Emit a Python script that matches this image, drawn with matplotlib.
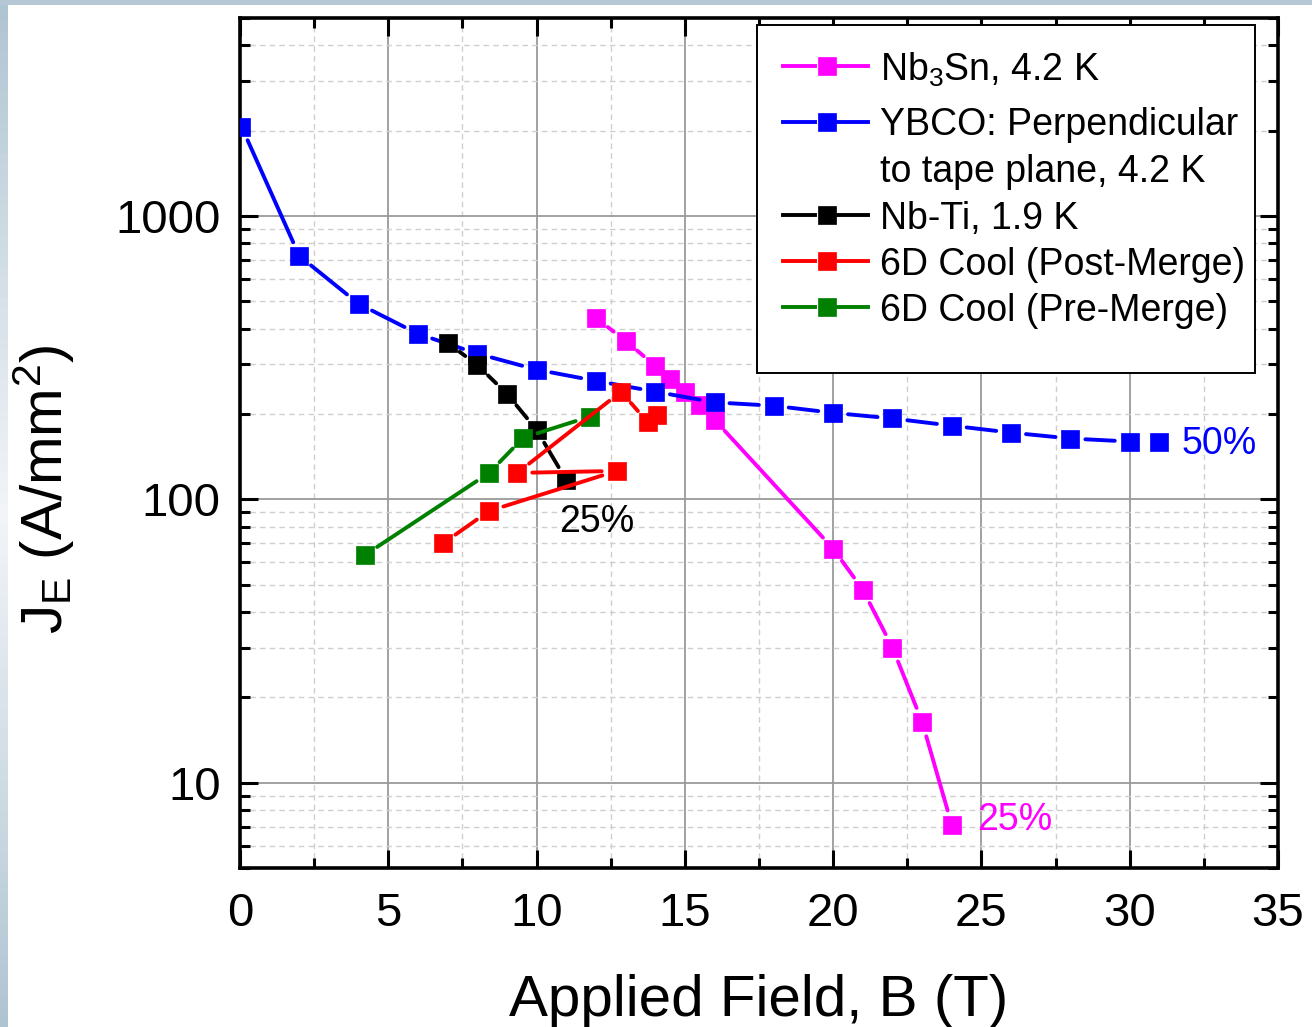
import numpy as np
import matplotlib
matplotlib.use("Agg")
import matplotlib.pyplot as plt
from matplotlib.lines import Line2D
from matplotlib.collections import LineCollection
from matplotlib.patches import Rectangle
from matplotlib.ticker import LogLocator, MultipleLocator, NullFormatter, FixedLocator

plt.rcParams['font.family'] = ['Liberation Sans', 'DejaVu Sans']
plt.rcParams['mathtext.fontset'] = 'custom'
plt.rcParams['mathtext.rm'] = 'Liberation Sans'
plt.rcParams['mathtext.it'] = 'Liberation Sans'

# ---- data: engineering current density vs applied field ----
nb3sn_B = [12, 13, 14, 14.5, 15, 15.5, 16, 20, 21, 22, 23, 24]
nb3sn_J = [437, 363, 296, 267, 240, 216, 191, 67, 48, 30, 16.4, 7.1]

ybco_B = [0.05, 2, 4, 6, 8, 10, 12, 14, 16, 18, 20, 22, 24, 26, 28, 30, 31]
ybco_J = [2070, 723, 490, 384, 327, 287, 262, 240, 220, 214, 202, 193, 182, 172, 164, 160, 160]

nbti_B = [7, 8, 9, 10, 11]
nbti_J = [357, 298, 236, 176, 117]

post_B = [6.85, 8.4, 12.7, 9.35, 12.85, 13.75, 14.05]
post_J = [70, 91, 126, 124, 240, 187, 198]

pre_B = [4.2, 8.4, 9.55, 11.8]
pre_J = [63.5, 124, 165, 196]

series = [
    ("Nb$_\\mathregular{3}$Sn, 4.2 K", nb3sn_B, nb3sn_J, "#ff00ff", 3),
    ("YBCO: Perpendicular\nto tape plane, 4.2 K", ybco_B, ybco_J, "#0000ff", 4),
    ("Nb-Ti, 1.9 K", nbti_B, nbti_J, "#000000", 5),
    ("6D Cool (Post-Merge)", post_B, post_J, "#ff0000", 7),
    ("6D Cool (Pre-Merge)", pre_B, pre_J, "#008000", 6),
]

annotations = [
    ("50%", 31.75, 157, "#0000ff"),
    ("25%", 24.85, 7.4, "#ff00ff"),
    ("25%", 10.75, 83, "#000000"),
]

W, H, DPI = 1312, 1027, 100
fig = plt.figure(figsize=(W / DPI, H / DPI), dpi=DPI)

# soft blue-gray frame on the top and left edges
grad = np.concatenate([np.linspace(0, 1, 50), np.linspace(1, 0, 50)])
col_dark = np.array([0.69, 0.77, 0.82])
col_light = np.array([0.95, 0.96, 0.97])
img = col_dark[None, :] * (1 - grad[:, None]) + col_light[None, :] * grad[:, None]
bg = fig.add_axes([0, 0, 8 / W, 1])
bg.imshow(img[:, None, :], aspect='auto', extent=[0, 1, 0, 1])
bg.set_axis_off()
fig.patches.append(Rectangle((0, 1 - 5 / H), 1, 5 / H, transform=fig.transFigure,
                             facecolor=(0.71, 0.78, 0.83), edgecolor='none', zorder=0))

AX_L, AX_R, AX_T, AX_B = 240, 1278, 18, 868
ax = fig.add_axes([AX_L / W, 1 - AX_B / H, (AX_R - AX_L) / W, (AX_B - AX_T) / H])
ax.set_yscale('log')
ax.set_xlim(0, 35)
ax.set_ylim(5, 5000)

ax.xaxis.set_major_locator(MultipleLocator(5))
ax.xaxis.set_minor_locator(MultipleLocator(2.5))
ax.yaxis.set_major_locator(FixedLocator([10, 100, 1000]))
ax.yaxis.set_minor_locator(LogLocator(base=10, subs=np.arange(2, 10), numticks=20))
ax.yaxis.set_minor_formatter(NullFormatter())
ax.set_yticklabels(['10', '100', '1000'])

ax.grid(True, which='major', color='#9a9a9a', linewidth=1.3, linestyle='-', zorder=0)
ax.grid(True, which='minor', color='#cfcfcf', linewidth=1.0, linestyle=(0, (4, 3)), zorder=0)
ax.set_axisbelow(True)

for s in ax.spines.values():
    s.set_linewidth(2.6)
ax.tick_params(which='both', direction='in', top=True, right=True, width=2.2)
ax.tick_params(which='major', length=13, labelsize=34)
ax.tick_params(which='minor', length=7)
ax.tick_params(axis='x', which='major', pad=17)
ax.tick_params(axis='y', which='major', pad=14)

ax.set_xlabel("Applied Field, B (T)", fontsize=42, labelpad=28)
ax.set_ylabel(r"J$_\mathregular{E}$ (A/mm$^\mathregular{2}$)", fontsize=42)
ax.yaxis.set_label_coords(-0.157, 0.445)

LW = 2.8
gap = 15  # pixels between a marker centre and where its connecting line starts
inv = ax.transData.inverted()
for label, xs, ys, color, z in series:
    pts = ax.transData.transform(np.column_stack([xs, ys]))
    segs = []
    for p0, p1 in zip(pts[:-1], pts[1:]):
        d = p1 - p0
        L = np.hypot(*d)
        if L <= 2 * gap + 1:
            continue
        u = d / L
        segs.append(inv.transform(np.array([p0 + u * gap, p1 - u * gap])))
    ax.add_collection(LineCollection(segs, colors=color, linewidths=LW,
                                     capstyle='round', zorder=z))
    ax.plot(xs, ys, linestyle='none', marker='s', markersize=13.5,
            markerfacecolor=color, markeredgecolor=color, markeredgewidth=0.5,
            zorder=z + 0.5)

for text, bx, jy, color in annotations:
    ax.text(bx, jy, text, color=color, fontsize=27, ha='left', va='center', zorder=10)


# legend box, drawn entry by entry (positions in pixels from the axes' top-left corner)
def ax_x(px):
    return (px - AX_L) / (AX_R - AX_L)


def ax_y(py):
    return (AX_B - py) / (AX_B - AX_T)


ax.add_patch(Rectangle((ax_x(757), ax_y(373)), ax_x(1255) - ax_x(757), ax_y(25) - ax_y(373),
                       transform=ax.transAxes, facecolor='white', edgecolor='black',
                       linewidth=1.4, zorder=20))
row_y = [66, 122, 215, 261, 307]
for (label, xs, ys, color, z), py in zip(series, row_y):
    for a, b in ((783, 815), (838, 868)):
        ax.add_line(Line2D([ax_x(a), ax_x(b)], [ax_y(py), ax_y(py)], transform=ax.transAxes,
                           color=color, linewidth=LW, zorder=21))
    ax.add_line(Line2D([ax_x(826.5)], [ax_y(py)], transform=ax.transAxes, linestyle='none',
                       marker='s', markersize=13, markerfacecolor=color, markeredgecolor=color,
                       markeredgewidth=0.5, zorder=22))
    if '\n' in label:
        ax.text(ax_x(880), ax_y(py - 15), label, transform=ax.transAxes, fontsize=27,
                ha='left', va='top', zorder=22, linespacing=1.38)
    else:
        ax.text(ax_x(880), ax_y(py), label, transform=ax.transAxes, fontsize=27,
                ha='left', va='center_baseline', zorder=22)

fig.savefig("out.png", dpi=DPI)
